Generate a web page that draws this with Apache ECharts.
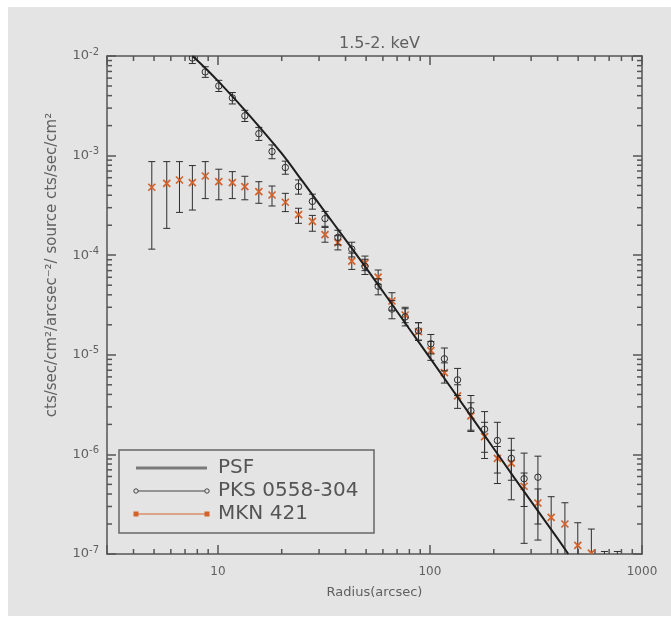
<!DOCTYPE html>
<html><head><meta charset="utf-8">
<script src="https://cdn.jsdelivr.net/npm/echarts@6/dist/echarts.min.js"></script>
<style>html,body{margin:0;padding:0;background:#fff}#c{width:671px;height:625px}</style>
</head><body><div id="c"></div>
<script>
// ---- data ----
const titleText = '1.5-2. keV';
const xName = 'Radius(arcsec)';
const yName = 'cts/sec/cm\u00b2/arcsec\u207b\u00b2/ source cts/sec/cm\u00b2';
const legendNames = ['PSF', 'PKS 0558-304', 'MKN 421'];

const radiusPKS = [7.58, 8.72, 10.1, 11.7, 13.4, 15.6, 18.0, 20.8, 24.0, 27.9, 32.0, 36.8, 42.8, 49.4, 57.0, 66.2, 76.4, 88.3, 101, 117, 135, 156, 181, 208, 242, 278, 323];
const valuePKS  = [9.55e-3, 6.92e-3, 5.01e-3, 3.8e-3, 2.51e-3, 1.66e-3, 1.1e-3, 7.59e-4, 4.88e-4, 3.47e-4, 2.33e-4, 1.51e-4, 1.15e-4, 7.73e-5, 4.88e-5, 2.88e-5, 2.4e-5, 1.74e-5, 1.29e-5, 9.12e-6, 5.6e-6, 2.75e-6, 1.79e-6, 1.38e-6, 9.12e-7, 5.7e-7, 5.9e-7];
const lowPKS    = [8.4e-3, 6.1e-3, 4.4e-3, 3.3e-3, 2.2e-3, 1.42e-3, 9.3e-4, 6.5e-4, 4.1e-4, 2.9e-4, 1.95e-4, 1.27e-4, 9.6e-5, 6.4e-5, 4.0e-5, 2.3e-5, 1.95e-5, 1.4e-5, 1.02e-5, 6.9e-6, 3.9e-6, 1.7e-6, 9.1e-7, 5.1e-7, 3.5e-7, 1.28e-7, 1.38e-7];
const highPKS   = [1.08e-2, 7.8e-3, 5.7e-3, 4.3e-3, 2.85e-3, 1.92e-3, 1.28e-3, 8.8e-4, 5.7e-4, 4.1e-4, 2.75e-4, 1.78e-4, 1.35e-4, 9.1e-5, 5.8e-5, 3.5e-5, 2.9e-5, 2.1e-5, 1.6e-5, 1.17e-5, 7.3e-6, 3.9e-6, 2.69e-6, 2.1e-6, 1.45e-6, 1.03e-6, 9.6e-7];

const radiusMKN = [4.88, 5.74, 6.59, 7.58, 8.72, 10.1, 11.7, 13.4, 15.6, 18.0, 20.8, 24.0, 27.9, 32.0, 36.8, 42.8, 49.4, 57.0, 66.2, 76.4, 88.3, 101, 117, 135, 156, 181, 208, 242, 278, 323, 373, 433, 498, 577, 665, 765];
const valueMKN  = [4.81e-4, 5.27e-4, 5.69e-4, 5.35e-4, 6.24e-4, 5.47e-4, 5.35e-4, 4.88e-4, 4.35e-4, 4.02e-4, 3.4e-4, 2.56e-4, 2.19e-4, 1.61e-4, 1.34e-4, 8.71e-5, 8.32e-5, 6.03e-5, 3.47e-5, 2.51e-5, 1.71e-5, 1.10e-5, 6.61e-6, 3.87e-6, 2.44e-6, 1.51e-6, 9.12e-7, 8.17e-7, 4.79e-7, 3.25e-7, 2.33e-7, 2.0e-7, 1.22e-7, 1.02e-7, 8.0e-8, 7.5e-8];
const lowMKN    = [1.15e-4, 1.86e-4, 2.69e-4, 2.84e-4, 3.7e-4, 3.6e-4, 3.7e-4, 3.6e-4, 3.32e-4, 3.12e-4, 2.74e-4, 2.09e-4, 1.74e-4, 1.35e-4, 1.13e-4, 7.2e-5, 7.0e-5, 5.1e-5, 2.8e-5, 2.1e-5, 1.4e-5, 8.8e-6, 5.2e-6, 2.9e-6, 1.75e-6, 1.05e-6, 6.5e-7, 5.5e-7, 3.0e-7, 2.0e-7, 8e-8, 8e-8, 8e-8, 8e-8, 5e-8, 5e-8];
const highMKN   = [8.7e-4, 8.7e-4, 8.7e-4, 7.94e-4, 8.7e-4, 7.3e-4, 6.9e-4, 6.2e-4, 5.47e-4, 4.95e-4, 4.18e-4, 2.96e-4, 2.51e-4, 1.9e-4, 1.57e-4, 1.05e-4, 9.8e-5, 7.1e-5, 4.2e-5, 3.0e-5, 2.1e-5, 1.36e-5, 8.3e-6, 5.0e-6, 3.3e-6, 2.1e-6, 1.2e-6, 1.1e-6, 6.5e-7, 4.5e-7, 3.76e-7, 3.27e-7, 2.06e-7, 1.78e-7, 1.06e-7, 1.06e-7];

const radiusPSF = [7.59, 8.91, 10, 12.6, 15.8, 20, 25.1, 31.6, 39.8, 50.1, 63.1, 79.4, 100, 158, 251, 398, 449];
const valuePSF  = [1e-2, 7.24e-3, 5.62e-3, 3.31e-3, 1.91e-3, 1.05e-3, 5.5e-4, 2.82e-4, 1.45e-4, 7.41e-5, 3.72e-5, 1.86e-5, 9.33e-6, 2.34e-6, 5.75e-7, 1.45e-7, 1.0e-7];

const xMinorTicks = [4, 5, 6, 7, 8, 9, 20, 30, 40, 50, 60, 70, 80, 90, 200, 300, 400, 500, 600, 700, 800, 900];
const yMinorTicks = [2e-7, 3e-7, 4e-7, 5e-7, 6e-7, 7e-7, 8e-7, 9e-7,
                     2e-6, 3e-6, 4e-6, 5e-6, 6e-6, 7e-6, 8e-6, 9e-6,
                     2e-5, 3e-5, 4e-5, 5e-5, 6e-5, 7e-5, 8e-5, 9e-5,
                     2e-4, 3e-4, 4e-4, 5e-4, 6e-4, 7e-4, 8e-4, 9e-4,
                     2e-3, 3e-3, 4e-3, 5e-3, 6e-3, 7e-3, 8e-3, 9e-3];
const xMin = 3, xMax = 1000, yMin = 1e-7, yMax = 1e-2;

// ---- styles ----
const FONT = 'DejaVu Sans';
const TXT = '#606060';
const AXC = '#555555';
const ORANGE = '#d4622a';
const DARK = '#2e2e2e';
const BG = '#e4e4e4';

function zip4(a, b, c, d) { return a.map((v, i) => [v, b[i], c[i], d[i]]); }
const pksData = zip4(radiusPKS, valuePKS, lowPKS, highPKS);
const mknData = zip4(radiusMKN, valueMKN, lowMKN, highMKN);
const psfData = radiusPSF.map((r, i) => [r, valuePSF[i]]);
const xTickData = xMinorTicks.map(t => [t, 1e-5]);
const yTickData = yMinorTicks.map(t => [10, t]);

function errRender(kind) {
  return function (params, api) {
    const r = api.value(0);
    const c = api.coord([r, api.value(1)]);
    const lo = api.coord([r, api.value(2)]);
    const hi = api.coord([r, api.value(3)]);
    const cap = 3.5;
    const st = { stroke: DARK, lineWidth: 1 };
    const ch = [
      { type: 'line', shape: { x1: c[0], y1: lo[1], x2: c[0], y2: hi[1] }, style: st },
      { type: 'line', shape: { x1: c[0] - cap, y1: lo[1], x2: c[0] + cap, y2: lo[1] }, style: st },
      { type: 'line', shape: { x1: c[0] - cap, y1: hi[1], x2: c[0] + cap, y2: hi[1] }, style: st }
    ];
    if (kind === 'pks') {
      ch.push({ type: 'circle', shape: { cx: c[0], cy: c[1], r: 3.2 }, style: { fill: 'none', stroke: DARK, lineWidth: 1 } });
    } else {
      const s = 3.5;
      const os = { stroke: ORANGE, lineWidth: 1.7 };
      ch.push({ type: 'line', shape: { x1: c[0] - s, y1: c[1] - s, x2: c[0] + s, y2: c[1] + s }, style: os });
      ch.push({ type: 'line', shape: { x1: c[0] - s, y1: c[1] + s, x2: c[0] + s, y2: c[1] - s }, style: os });
    }
    return { type: 'group', children: ch };
  };
}

const MINOR = 5;
function xTickRender(params, api) {
  const cs = params.coordSys;
  const p = api.coord([api.value(0), api.value(1)]);
  const st = { stroke: AXC, lineWidth: 1.5 };
  const b = cs.y + cs.height, t = cs.y;
  return { type: 'group', children: [
    { type: 'line', shape: { x1: p[0], y1: b, x2: p[0], y2: b - MINOR }, style: st },
    { type: 'line', shape: { x1: p[0], y1: t, x2: p[0], y2: t + MINOR }, style: st }
  ] };
}
function yTickRender(params, api) {
  const cs = params.coordSys;
  const p = api.coord([api.value(0), api.value(1)]);
  const st = { stroke: AXC, lineWidth: 1.5 };
  const l = cs.x, r = cs.x + cs.width;
  return { type: 'group', children: [
    { type: 'line', shape: { x1: l, y1: p[1], x2: l + MINOR, y2: p[1] }, style: st },
    { type: 'line', shape: { x1: r, y1: p[1], x2: r - MINOR, y2: p[1] }, style: st }
  ] };
}

const chart = echarts.init(document.getElementById('c'), null, { renderer: 'canvas' });
const axisLine = { show: true, lineStyle: { color: AXC, width: 1.5 } };
const majorTick = { show: true, inside: true, length: 9, lineStyle: { color: AXC, width: 1.5 } };

chart.setOption({
  backgroundColor: BG,
  animation: false,
  title: {
    text: titleText, left: 374.5, top: 31, textAlign: 'center',
    textStyle: { fontFamily: FONT, fontSize: 16, fontWeight: 'normal', color: TXT }
  },
  grid: { left: 107, right: 29, top: 56, bottom: 71, containLabel: false },
  xAxis: [
    {
      type: 'log', logBase: 10, min: xMin, max: xMax, position: 'bottom',
      name: xName, nameLocation: 'middle', nameGap: 32,
      nameTextStyle: { fontFamily: FONT, fontSize: 13, color: TXT },
      axisLine: axisLine, axisTick: majorTick, splitLine: { show: false },
      axisLabel: {
        margin: 12, fontFamily: FONT, fontSize: 12, color: TXT,
        formatter: v => { const e = Math.log10(v); return Math.abs(e - Math.round(e)) < 1e-6 ? String(Math.round(v)) : ''; }
      }
    },
    {
      type: 'log', logBase: 10, min: xMin, max: xMax, position: 'top',
      axisLine: axisLine, axisTick: majorTick, axisLabel: { show: false }, splitLine: { show: false }
    }
  ],
  yAxis: [
    {
      type: 'log', logBase: 10, min: yMin, max: yMax, position: 'left',
      axisLine: axisLine, axisTick: majorTick, splitLine: { show: false },
      axisLabel: {
        margin: 8,
        formatter: v => '{b|10}{s|' + Math.round(Math.log10(v)) + '}',
        rich: {
          b: { fontFamily: FONT, fontSize: 13, color: TXT, lineHeight: 18 },
          s: { fontFamily: FONT, fontSize: 10, color: TXT, verticalAlign: 'top', lineHeight: 10 }
        }
      }
    },
    {
      type: 'log', logBase: 10, min: yMin, max: yMax, position: 'right',
      axisLine: axisLine, axisTick: majorTick, axisLabel: { show: false }, splitLine: { show: false }
    }
  ],
  graphic: [
    { type: 'rect', silent: true, shape: { x: 0, y: 0, width: 8, height: 625 }, style: { fill: '#ffffff' } },
    { type: 'rect', silent: true, shape: { x: 0, y: 0, width: 671, height: 7 }, style: { fill: '#ffffff' } },
    { type: 'rect', silent: true, shape: { x: 0, y: 616, width: 671, height: 9 }, style: { fill: '#ffffff' } },
    { type: 'text', x: 52, y: 265, rotation: Math.PI / 2, silent: true,
      style: { text: yName, font: '15px "DejaVu Sans"', fill: TXT, align: 'center', verticalAlign: 'middle' } },
    { type: 'rect', z: 50, silent: true, shape: { x: 119, y: 450, width: 255, height: 83 }, style: { fill: 'none', stroke: '#666', lineWidth: 1.5 } },
    { type: 'line', z: 50, shape: { x1: 136, y1: 468, x2: 207, y2: 468 }, style: { stroke: '#7a7a7a', lineWidth: 3 } },
    { type: 'line', z: 50, shape: { x1: 136, y1: 491, x2: 207, y2: 491 }, style: { stroke: '#444', lineWidth: 1 } },
    { type: 'circle', z: 51, shape: { cx: 136, cy: 491, r: 2.2 }, style: { fill: BG, stroke: '#444', lineWidth: 1 } },
    { type: 'circle', z: 51, shape: { cx: 207, cy: 491, r: 2.2 }, style: { fill: BG, stroke: '#444', lineWidth: 1 } },
    { type: 'line', z: 50, shape: { x1: 136, y1: 514, x2: 207, y2: 514 }, style: { stroke: ORANGE, lineWidth: 1 } },
    { type: 'rect', z: 51, shape: { x: 133.5, y: 511.5, width: 5, height: 5 }, style: { fill: ORANGE } },
    { type: 'rect', z: 51, shape: { x: 204.5, y: 511.5, width: 5, height: 5 }, style: { fill: ORANGE } },
    { type: 'text', z: 51, x: 218, y: 468, style: { text: legendNames[0], font: '20px "DejaVu Sans"', fill: '#555', align: 'left', verticalAlign: 'middle' } },
    { type: 'text', z: 51, x: 218, y: 491, style: { text: legendNames[1], font: '20px "DejaVu Sans"', fill: '#555', align: 'left', verticalAlign: 'middle' } },
    { type: 'text', z: 51, x: 218, y: 514, style: { text: legendNames[2], font: '20px "DejaVu Sans"', fill: '#555', align: 'left', verticalAlign: 'middle' } }
  ],
  series: [
    { type: 'custom', name: 'xticks', data: xTickData, encode: { x: 0, y: 1 }, renderItem: xTickRender },
    { type: 'custom', name: 'yticks', data: yTickData, encode: { x: 0, y: 1 }, renderItem: yTickRender },
    {
      type: 'custom', name: legendNames[2], clip: true,
      data: mknData, dimensions: ['r', 'v', 'lo', 'hi'], encode: { x: 0, y: 1 },
      renderItem: errRender('mkn')
    },
    {
      type: 'custom', name: legendNames[1], clip: true,
      data: pksData, dimensions: ['r', 'v', 'lo', 'hi'], encode: { x: 0, y: 1 },
      renderItem: errRender('pks')
    },
    {
      type: 'line', name: legendNames[0], data: psfData, showSymbol: false, smooth: 0.3,
      clip: true, lineStyle: { color: '#1e1e1e', width: 2 }, z: 5
    }
  ]
});
</script></body></html>
